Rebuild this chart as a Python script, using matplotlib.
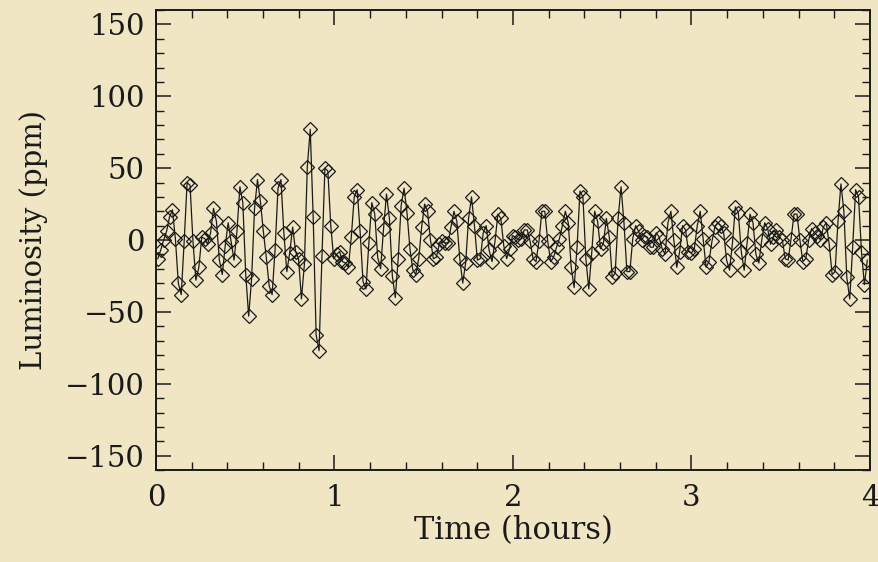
import numpy as np
import matplotlib
matplotlib.use("Agg")
import matplotlib.pyplot as plt
from matplotlib.ticker import MultipleLocator

# Luminosity values (ppm), roughly one-minute cadence
seg_a = [-13, -7, 0, 6, 16, 21, 1, -30, -38, -1, 40, 38, -1, -28, -19, 2, 1, -3, 5, 22]
seg_b = [13, -14, -24, -4, 12, -1, -14, 6, 37, 26, -24, -53, -27, 22, 42, 27, 6, -12, -32, -38]
seg_c = [-7, 36, 42, 5, -22, -9, 9, -8, -13, -41, -17, 51, 77, 16, -66, -77, -11, 50, 48, 10, -13]
seg_d = [-10, -8, -15, -16, -19, 2, 30, 35, 6, -29, -34, -2, 26, 18, -12, -20, 8, 32, 15, -25, -40]
seg_e = [-13, 24, 36, 19, -6, -21, -24, -13, 9, 25, 20, 0, -13, -12, -3, -1, -2, -2, 9, 20]
seg_f = [13, -13, -30, -16, 15, 30, 10, -14, -13, 5, 10, -7, -15, -1, 18, 15, -4, -13, -6, 3]
seg_g = [2, 0, 1, 7, 7, -1, -13, -15, -1, 20, 20, -1, -15, -12, -5, 1, 10, 20, 12, -19]
seg_h = [-33, -5, 34, 30, -13, -34, -9, 20, 13, -6, -2, 15, 2, -26, -23, 15, 37, 12, -22]
seg_i = [-22, 1, 10, 6, 0, 3, 2, -5, -5, 5, 2, -6, -10, 12, 20, 0, -19, -8, 10, 7]
seg_j = [-8, -9, -6, 10, 20, 1, -19, -15, -1, 9, 12, 10, 5, -14, -21, -2, 23, 19, -8, -21, -2, 18]
seg_k = [12, -10, -16, 0, 12, 8, -3, 2, 7, 2, 0, -13, -14, 1, 18, 18, 0, -15, -13, 0, 8]
seg_l = [5, 3, 0, 9, 12, -3, -24, -22, 13, 39, 20, -26, -41, -5, 35, 30, -8, -31, -14]

luminosity = np.array(seg_a + seg_b + seg_c + seg_d + seg_e + seg_f +
                      seg_g + seg_h + seg_i + seg_j + seg_k + seg_l, dtype=float)

t_start, t_end = 0.01, 3.985          # hours, first and last sample
time_h = np.linspace(t_start, t_end, luminosity.size)

x_ticks = [0, 1, 2, 3, 4]
y_ticks = [-150, -100, -50, 0, 50, 100, 150]

bg = "#F1E6C3"
ink = "#1a1a1a"

plt.rcParams["font.family"] = ["DejaVu Serif"]
fig = plt.figure(figsize=(8.79, 5.62), dpi=100, facecolor=bg)
ax = fig.add_axes([156 / 879, 1 - 470 / 562, (870 - 156) / 879, (470 - 10) / 562])
ax.set_facecolor(bg)

ax.plot(time_h, luminosity, color=ink, lw=0.9, marker="D", ms=6.8,
        mfc="none", mec=ink, mew=0.9)

ax.set_xlim(0, 4)
ax.set_ylim(-160, 160)
ax.set_xticks(x_ticks)
ax.set_yticks(y_ticks)
ax.xaxis.set_minor_locator(MultipleLocator(0.2))
ax.yaxis.set_minor_locator(MultipleLocator(10))
ax.tick_params(which="both", direction="in", top=True, right=True,
               color=ink, labelsize=21, labelcolor=ink)
ax.tick_params(which="major", length=11, width=1.1, pad=8)
ax.tick_params(axis="x", which="major", pad=10)
ax.tick_params(which="minor", length=5.5, width=1.0)
for sp in ax.spines.values():
    sp.set_linewidth(1.4)
    sp.set_color(ink)

ax.set_xlabel("Time (hours)", fontsize=22, color=ink, labelpad=2)
ax.set_ylabel("Luminosity (ppm)", fontsize=21, color=ink, labelpad=12)

fig.savefig("out.png", dpi=100, facecolor=bg)
